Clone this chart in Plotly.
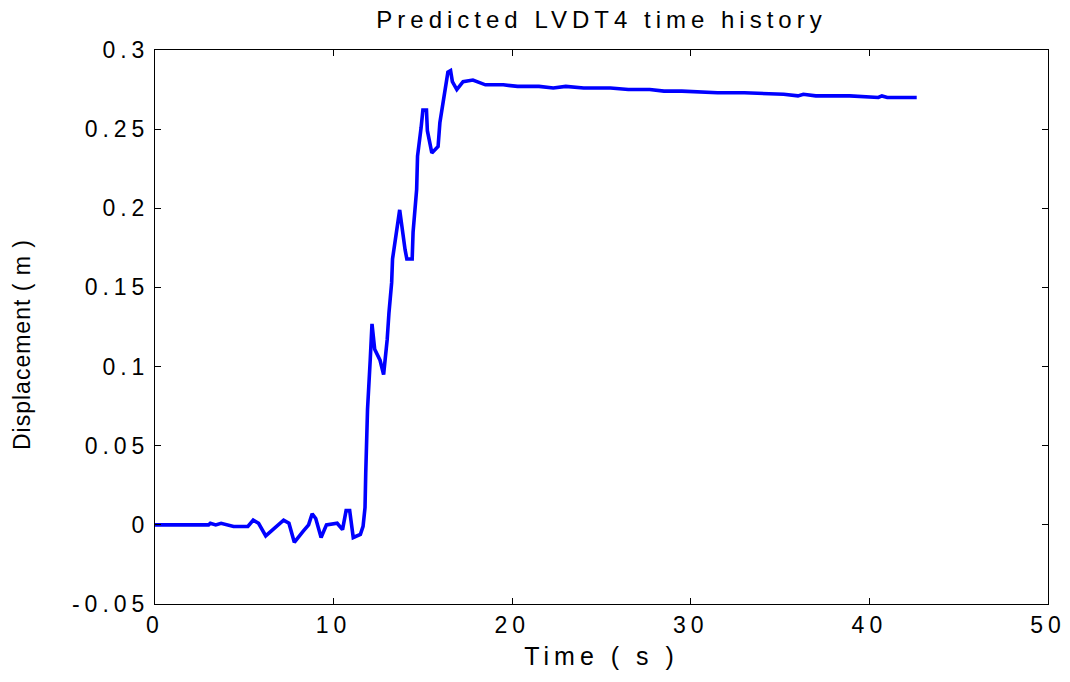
import plotly.graph_objects as go

time_s = [0, 3.0, 3.1, 3.4, 3.7, 4.0, 4.4, 4.8, 5.2, 5.5, 5.8, 6.2, 6.6, 7.2, 7.5, 7.8, 8.3, 8.6, 8.8, 9.0, 9.3, 9.6, 10.2, 10.5, 10.7, 10.9, 11.1, 11.5, 11.65,
          11.76, 11.8, 11.9, 12.05, 12.15, 12.3, 12.6, 12.8, 12.9, 13.0, 13.1, 13.25, 13.3, 13.5, 13.7, 14.0, 14.1, 14.4, 14.45, 14.65,
          14.7, 14.9, 15.0, 15.2, 15.25, 15.5, 15.85, 15.95, 16.1, 16.25, 16.4, 16.55, 16.65, 16.9, 17.25, 17.8, 18.5,
          19.5, 20.3, 21.5, 22.3, 23.0, 24.0, 25.5, 26.5, 27.7, 28.5, 29.5, 31.5, 33.0, 35.2, 36.0, 36.3, 37.0, 38.9, 40.5, 40.7, 41.0, 41.5, 42.65]
displacement_m = [0, 0, 0.001, 0.0, 0.001, 0.0, -0.001, -0.001, -0.001, 0.003, 0.001, -0.007, -0.003, 0.003, 0.001, -0.011, -0.004, 0.0, 0.007, 0.004, -0.008, 0.0, 0.001, -0.003, 0.009, 0.009, -0.008, -0.006, -0.001,
                  0.011, 0.033, 0.073, 0.104, 0.127, 0.111, 0.104, 0.095, 0.104, 0.117, 0.134, 0.153, 0.168, 0.185, 0.199, 0.174, 0.168, 0.168, 0.185, 0.212,
                  0.233, 0.251, 0.262, 0.262, 0.249, 0.235, 0.239, 0.254, 0.264, 0.277, 0.286, 0.287, 0.280, 0.275, 0.280, 0.281, 0.278,
                  0.278, 0.277, 0.277, 0.276, 0.277, 0.276, 0.276, 0.275, 0.275, 0.274, 0.274, 0.273, 0.273, 0.272, 0.271, 0.272, 0.271, 0.271, 0.270, 0.271, 0.270, 0.270, 0.270]

x_ticks = [0, 10, 20, 30, 40, 50]
x_tick_labels = ["0", "10", "20", "30", "40", "50"]
y_ticks = [-0.05, 0, 0.05, 0.1, 0.15, 0.2, 0.25, 0.3]
y_tick_labels = ["-0.05", "0", "0.05", "0.1", "0.15", "0.2", "0.25", "0.3"]


def spaced(s, px):
    return "<span style='letter-spacing:%dpx'>%s</span>" % (px, s)


font = "Liberation Sans, Arial, sans-serif"

fig = go.Figure(go.Scatter(x=time_s, y=displacement_m, mode="lines",
                           line=dict(color="#0000ff", width=3.6)))

axis_common = dict(showgrid=False, zeroline=False, showline=True, linecolor="black", linewidth=1,
                   mirror="ticks", ticks="inside", ticklen=6, tickcolor="black",
                   ticklabeloverflow="allow", automargin=False,
                   tickfont=dict(family=font, size=23, color="black"))

fig.update_xaxes(range=[0, 50], tickvals=x_ticks, ticktext=[spaced(t, 5) for t in x_tick_labels],
                 title=dict(text=spaced("Time ( s )", 5), font=dict(family=font, size=25, color="black"), standoff=10),
                 **axis_common)
fig.update_yaxes(range=[-0.05, 0.3], tickvals=y_ticks, ticktext=[spaced(t, 5) for t in y_tick_labels],
                 **axis_common)

fig.add_annotation(text=spaced("Displacement ( m )", 1), xref="paper", yref="paper",
                   x=(22 - 155) / 893, y=(604 - 345) / 554, xanchor="center", yanchor="middle",
                   textangle=-90, showarrow=False, font=dict(family=font, size=23, color="black"))

fig.update_layout(
    width=1070, height=682,
    paper_bgcolor="white", plot_bgcolor="white",
    margin=dict(l=155, r=22, t=50, b=78),
    showlegend=False,
    title=dict(text=spaced("Predicted LVDT4 time history", 5), x=0.5, xanchor="center", xref="paper",
               y=1 - 20 / 682, yanchor="middle", font=dict(family=font, size=24, color="black")),
)

# remove the default 8px page margin so the figure fills the window exactly
fig.write_html("out.html", config={"displayModeBar": False},
               post_script="document.body.style.margin='0';")
